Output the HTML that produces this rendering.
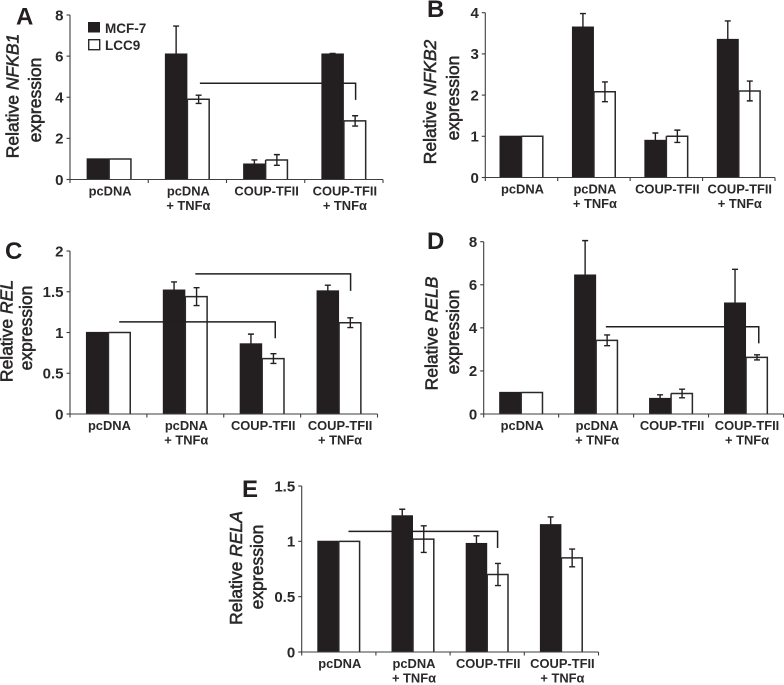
<!DOCTYPE html>
<html>
<head>
<meta charset="utf-8">
<title>Relative expression of NF-kB genes</title>
<style>
html,body{margin:0;padding:0;background:#fff;width:784px;height:685px;overflow:hidden}
svg{display:block;font-family:"Liberation Sans",sans-serif;filter:blur(.3px)}
.letter{font-size:24px;font-weight:bold;fill:#231f20}
.ytitle{font-size:17.5px;fill:#2b2829;stroke:#2b2829;stroke-width:.55px}
.legend{font-size:13.5px;font-weight:bold;fill:#2b2829}
.tick{font-size:15px;font-weight:bold;fill:#2b2829;text-anchor:end}
.cat{font-size:12.9px;font-weight:bold;fill:#2b2829;text-anchor:middle}
</style>
</head>
<body>
<svg id="figure" xmlns="http://www.w3.org/2000/svg" width="784" height="685" viewBox="0 0 784 685">
  <rect width="784" height="685" fill="#fff"/>
  <g id="marks"></g>

  <text class="letter" x="16" y="24.5">A</text>
  <text class="letter" x="427" y="17">B</text>
  <text class="letter" x="5" y="259">C</text>
  <text class="letter" x="427" y="249">D</text>
  <text class="letter" x="242" y="497">E</text>

  <g text-anchor="middle">
    <text class="ytitle" transform="translate(18.5 96) rotate(-90)">Relative <tspan font-style="italic">NFKB1</tspan></text>
    <text class="ytitle" transform="translate(41 100) rotate(-90)">expression</text>
    <text class="ytitle" transform="translate(436 102) rotate(-90)">Relative <tspan font-style="italic">NFKB2</tspan></text>
    <text class="ytitle" transform="translate(459 98) rotate(-90)">expression</text>
    <text class="ytitle" transform="translate(12.5 331) rotate(-90)">Relative <tspan font-style="italic">REL</tspan></text>
    <text class="ytitle" transform="translate(32 328) rotate(-90)">expression</text>
    <text class="ytitle" transform="translate(437.5 333.5) rotate(-90)">Relative <tspan font-style="italic">RELB</tspan></text>
    <text class="ytitle" transform="translate(459 332) rotate(-90)">expression</text>
    <text class="ytitle" transform="translate(242 568) rotate(-90)">Relative <tspan font-style="italic">RELA</tspan></text>
    <text class="ytitle" transform="translate(263 567) rotate(-90)">expression</text>
  </g>

  <g>
    <rect x="88" y="22" width="12" height="10.5" fill="#231f20"/>
    <text class="legend" x="105" y="33">MCF-7</text>
    <rect x="88.7" y="39.7" width="11" height="10" fill="#fff" stroke="#2b2829" stroke-width="1.4"/>
    <text class="legend" x="105" y="50">LCC9</text>
  </g>
</svg>

<script>
const categories = [["pcDNA"], ["pcDNA", "+ TNFα"], ["COUP-TFII"], ["COUP-TFII", "+ TNFα"]];

const aTicks = ["0", "2", "4", "6", "8"];
const bTicks = ["0", "1", "2", "3", "4"];
const cTicks = ["0", "0.5", "1", "1.5", "2"];
const dTicks = ["0", "2", "4", "6", "8"];
const eTicks = ["0", "0.5", "1", "1.5"];

const aMcf7 = [1, 6.1, 0.75, 6.1];
const aMcf7Err = [0, 1.36, 0.2, 0.03];
const aLcc9 = [1, 3.9, 0.95, 2.85];
const aLcc9Err = [0, 0.2, 0.26, 0.25];
const aBrackets = [[1.66, 3.65, 4.68, 3.87]];

const bMcf7 = [1, 3.65, 0.9, 3.35];
const bMcf7Err = [0, 0.33, 0.18, 0.45];
const bLcc9 = [1, 2.08, 1, 2.1];
const bLcc9Err = [0, 0.24, 0.15, 0.24];
const bBrackets = [];

const cMcf7 = [1, 1.52, 0.86, 1.51];
const cMcf7Err = [0, 0.1, 0.12, 0.07];
const cLcc9 = [1, 1.44, 0.68, 1.12];
const cLcc9Err = [0, 0.11, 0.06, 0.06];
const cBrackets = [[0.64, 2.67, 1.13, 0.93], [1.63, 3.65, 1.72, 1.51]];

const dMcf7 = [1, 6.45, 0.72, 5.15];
const dMcf7Err = [0, 1.6, 0.17, 1.57];
const dLcc9 = [1, 3.42, 0.95, 2.63];
const dLcc9Err = [0, 0.25, 0.2, 0.12];
const dBrackets = [[1.63, 3.67, 4.05, 3.28]];

const eMcf7 = [1, 1.23, 0.98, 1.15];
const eMcf7Err = [0, 0.06, 0.07, 0.07];
const eLcc9 = [1, 1.02, 0.7, 0.85];
const eLcc9Err = [0, 0.12, 0.1, 0.08];
const eBrackets = [[0.63, 2.64, 1.09, 0.94]];

const panels = [
  {id:"a", left:70, right:383, base:179.5, top:15, max:8, gap:22.5, mcf7:aMcf7, mcf7Err:aMcf7Err, lcc9:aLcc9, lcc9Err:aLcc9Err, ticks:aTicks, brackets:aBrackets},
  {id:"b", left:485.3, right:775, base:177.5, top:12.7, max:4, gap:22, mcf7:bMcf7, mcf7Err:bMcf7Err, lcc9:bLcc9, lcc9Err:bLcc9Err, ticks:bTicks, brackets:bBrackets},
  {id:"c", left:70, right:377.5, base:414, top:251, max:2, gap:22.5, mcf7:cMcf7, mcf7Err:cMcf7Err, lcc9:cLcc9, lcc9Err:cLcc9Err, ticks:cTicks, brackets:cBrackets},
  {id:"d", left:483.7, right:783.5, base:414, top:241.7, max:8, gap:22, mcf7:dMcf7, mcf7Err:dMcf7Err, lcc9:dLcc9, lcc9Err:dLcc9Err, ticks:dTicks, brackets:dBrackets},
  {id:"e", left:301.7, right:598.5, base:652, top:486, max:1.5, gap:21.5, mcf7:eMcf7, mcf7Err:eMcf7Err, lcc9:eLcc9, lcc9Err:eLcc9Err, ticks:eTicks, brackets:eBrackets}
];

const NS = "http://www.w3.org/2000/svg";
const root = document.getElementById("marks");
const INK = "#231f20";
const AXIS = "#3f3d3e";

function make(parent, tag, props) {
  const el = document.createElementNS(NS, tag);
  for (const k in props) el.setAttribute(k, props[k]);
  parent.appendChild(el);
  return el;
}

function drawError(g, panel, cx, y, value, err, both, name) {
  if (!err) return;
  const yTop = y(value + err);
  const yBot = both ? y(value - err) : y(value);
  const wrap = make(g, "path", {
    d: "M" + cx + " " + yBot + "V" + yTop + "M" + (cx - 3) + " " + yTop + "H" + (cx + 3) +
       (both ? "M" + (cx - 3) + " " + yBot + "H" + (cx + 3) : ""),
    fill: "none", stroke: INK, "stroke-width": 1.4
  });
  
  
}

function drawPanel(p) {
  const g = make(root, "g", {});
  
  

  const step = (p.right - p.left) / categories.length;
  const y = v => p.base - (v / p.max) * (p.base - p.top);
  const center = i => p.left + (i + 0.5) * step;
  const xAt = c => p.left + c * step;

  categories.forEach((lines, i) => {
    const cx = center(i);
    const bar = make(g, "rect", {
      x: cx - p.gap, y: y(p.mcf7[i]) - 0.6, width: p.gap, height: p.base - y(p.mcf7[i]) + 0.6, fill: INK
    });
    
    
    drawError(g, p, cx - p.gap / 2, y, p.mcf7[i], p.mcf7Err[i], false, "error-bar-mcf7-" + p.id + "-" + i);

    const white = make(g, "path", {
      d: "M" + cx + " " + y(p.lcc9[i]) + "H" + (cx + p.gap - 0.7) + "V" + p.base + "M" + cx + " " + y(p.lcc9[i]) + "V" + p.base,
      fill: "#fff", stroke: "#2b2829", "stroke-width": 1.5
    });
    
    
    drawError(g, p, cx + p.gap / 2, y, p.lcc9[i], p.lcc9Err[i], true, "error-bar-lcc9-" + p.id + "-" + i);

    lines.forEach((line, n) => {
      const label = make(g, "text", {class: "cat", x: cx + 1, y: p.base + 16 + n * 14.5});
      label.textContent = line;
      
      
    });
  });

  p.brackets.forEach((b, i) => {
    const br = make(g, "path", {
      d: "M" + xAt(b[0]) + " " + y(b[2]) + "H" + xAt(b[1]) + "V" + y(b[3]),
      fill: "none", stroke: INK, "stroke-width": 1.5
    });
    
    
  });

  const yAxis = make(g, "line", {x1: p.left, x2: p.left, y1: p.top, y2: p.base + 0.5, stroke: AXIS, "stroke-width": 1.1});
  
  

  const xAxis = make(g, "line", {x1: p.left, x2: p.right, y1: p.base, y2: p.base, stroke: AXIS, "stroke-width": 1.1});
  
  

  for (let i = 0; i <= categories.length; i++) {
    const t = make(g, "line", {x1: xAt(i), x2: xAt(i), y1: p.base, y2: p.base + 3.5, stroke: AXIS, "stroke-width": 1.1});
    
    
  }

  p.ticks.forEach(tick => {
    const ty = y(parseFloat(tick));
    const t = make(g, "line", {x1: p.left - 3.5, x2: p.left, y1: ty, y2: ty, stroke: AXIS, "stroke-width": 1.1});
    
    
    const label = make(g, "text", {class: "tick", x: p.left - 6.5, y: ty + 5.3});
    label.textContent = tick;
    
    
  });
}

panels.forEach(drawPanel);
</script>
</body>
</html>
